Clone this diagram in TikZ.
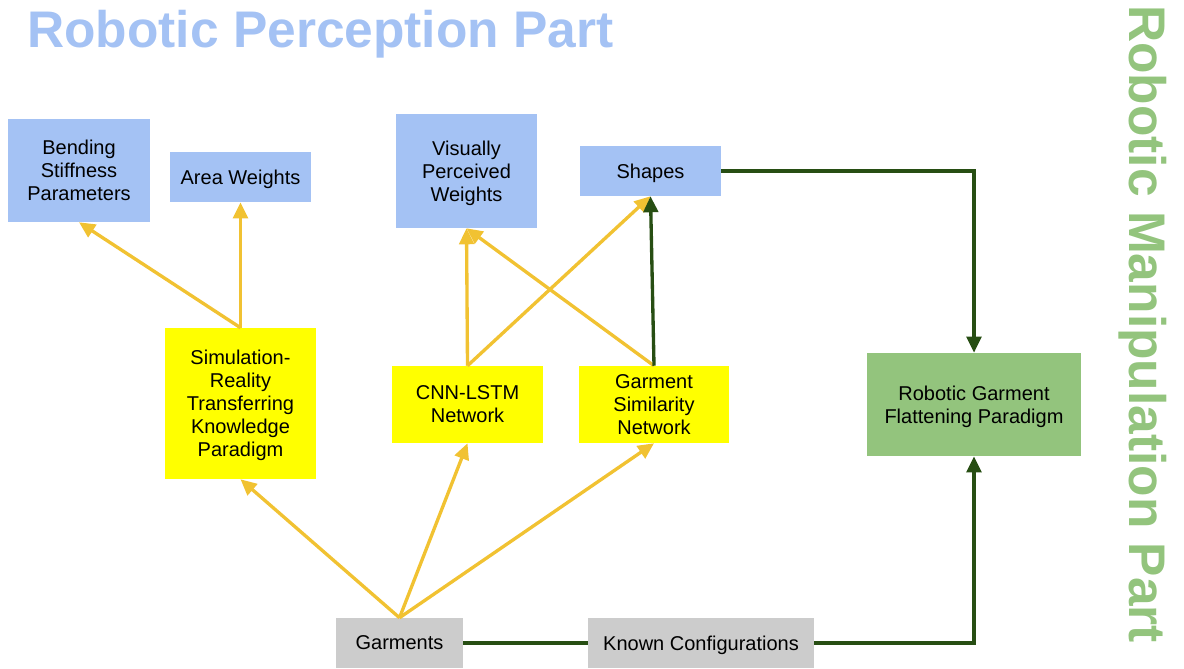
\documentclass[tikz,border=0pt]{standalone}
\usepackage{fontspec}
\setmainfont{Liberation Sans}
\usetikzlibrary{arrows.meta}
\definecolor{boxblue}{HTML}{A4C2F4}
\definecolor{boxyellow}{HTML}{FFFF00}
\definecolor{boxgray}{HTML}{CCCCCC}
\definecolor{boxgreen}{HTML}{93C47D}
\definecolor{flowyellow}{HTML}{F1C232}
\definecolor{flowgreen}{HTML}{274E13}
\begin{document}
\begin{tikzpicture}[x=0.75pt,y=-0.75pt,
  wh/.style 2 args={minimum width=#1*0.75pt, minimum height=#2*0.75pt},
  box/.style={rectangle, draw=none, inner sep=0pt, align=center, text depth=0pt,
    text=black, font=\fontsize{15}{17.25}\selectfont},
  result/.style={box, fill=boxblue},
  method/.style={box, fill=boxyellow},
  source/.style={box, fill=boxgray},
  robot/.style={box, fill=boxgreen},
  yarrow/.style={draw=flowyellow, line width=2.5pt,
    -{Triangle[length=12pt,width=11pt]}},
  garrow/.style={draw=flowgreen, line width=2.5pt,
    -{Triangle[length=12pt,width=11pt]}},
  gline/.style={draw=flowgreen, line width=2.5pt},
  heading/.style={inner sep=0pt, font=\fontsize{38.6}{40}\selectfont\bfseries}
]
\useasboundingbox (0,0) rectangle (1184,668);

% headings
\node[heading, text=boxblue, anchor=base west] (perc) at (27,47) {Robotic Perception Part};
\node[heading, text=boxgreen, anchor=base west, rotate=-90] (manip) at (1129,5) {Robotic Manipulation Part};

% perceived quantities
\node[result, wh={142}{103}] (bend) at (79,170.5) {Bending\\Stiffness\\Parameters};
\node[result, wh={141}{50}] (area) at (240.5,177) {Area Weights};
\node[result, wh={141}{114}] (vpw) at (466.5,171) {Visually\\Perceived\\Weights};
\node[result, wh={141}{50}] (shapes) at (650.5,171) {Shapes};

% methods
\node[method, wh={151}{151}] (sim) at (240.5,403.5) {Simulation-\\Reality\\Transferring\\Knowledge\\Paradigm};
\node[method, wh={151}{77}] (cnn) at (467.5,404.5) {CNN-LSTM\\Network};
\node[method, wh={150}{77}] (gsn) at (654,404.5) {Garment\\Similarity\\Network};

% manipulation
\node[robot, wh={214}{103}] (flat) at (974,404.5) {Robotic Garment\\Flattening Paradigm};

% inputs
\node[source, wh={127}{50}] (garm) at (399.5,643) {Garments};
\node[source, wh={226}{50}] (known) at (701,643) {Known Configurations};

% perception flow
\draw[yarrow] (sim.north) -- (bend.south);
\draw[yarrow] (sim.north) -- (area.south);
\draw[yarrow] (cnn.north) -- (vpw.south);
\draw[yarrow] (cnn.north) -- (shapes.south);
\draw[yarrow] (gsn.north) -- (vpw.south);
\draw[garrow] (gsn.north) -- (shapes.south);
\draw[yarrow] (garm.north) -- (sim.south);
\draw[yarrow] (garm.north) -- (cnn.south);
\draw[yarrow] (garm.north) -- (gsn.south);

% manipulation flow
\draw[garrow] (shapes.east) -| (flat.north);
\draw[gline] (garm.east) -- (known.west);
\draw[garrow] (known.east) -| (flat.south);
\end{tikzpicture}
\end{document}
